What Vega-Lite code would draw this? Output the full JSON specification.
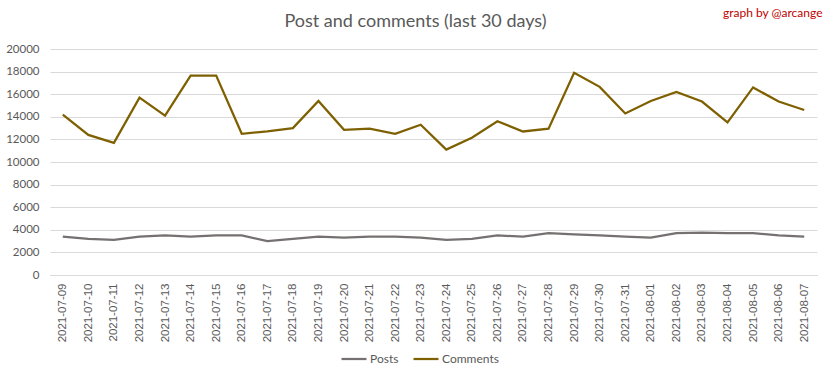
{
  "$schema": "https://vega.github.io/schema/vega-lite/v6.json",
  "autosize": {"type": "none"},
  "width": 767,
  "height": 226,
  "padding": {"left": 50, "top": 49, "right": 15, "bottom": 103},
  "background": "white",
  "title": {"text": "Post and comments (last 30 days)", "anchor": "middle", "dx": -18, "offset": -25, "font": "Lato", "fontSize": 18, "fontWeight": "normal", "color": "#595959"},
  "data": {"values": [
    {"date": "2021-07-09", "Posts": 3400, "Comments": 14200},
    {"date": "2021-07-10", "Posts": 3200, "Comments": 12400},
    {"date": "2021-07-11", "Posts": 3100, "Comments": 11700},
    {"date": "2021-07-12", "Posts": 3400, "Comments": 15700},
    {"date": "2021-07-13", "Posts": 3500, "Comments": 14100},
    {"date": "2021-07-14", "Posts": 3400, "Comments": 17650},
    {"date": "2021-07-15", "Posts": 3500, "Comments": 17650},
    {"date": "2021-07-16", "Posts": 3500, "Comments": 12500},
    {"date": "2021-07-17", "Posts": 3000, "Comments": 12700},
    {"date": "2021-07-18", "Posts": 3200, "Comments": 13000},
    {"date": "2021-07-19", "Posts": 3400, "Comments": 15400},
    {"date": "2021-07-20", "Posts": 3300, "Comments": 12850},
    {"date": "2021-07-21", "Posts": 3400, "Comments": 12950},
    {"date": "2021-07-22", "Posts": 3400, "Comments": 12500},
    {"date": "2021-07-23", "Posts": 3300, "Comments": 13300},
    {"date": "2021-07-24", "Posts": 3100, "Comments": 11100},
    {"date": "2021-07-25", "Posts": 3200, "Comments": 12150},
    {"date": "2021-07-26", "Posts": 3500, "Comments": 13600},
    {"date": "2021-07-27", "Posts": 3400, "Comments": 12700},
    {"date": "2021-07-28", "Posts": 3700, "Comments": 12950},
    {"date": "2021-07-29", "Posts": 3600, "Comments": 17900},
    {"date": "2021-07-30", "Posts": 3500, "Comments": 16650},
    {"date": "2021-07-31", "Posts": 3400, "Comments": 14300},
    {"date": "2021-08-01", "Posts": 3300, "Comments": 15400},
    {"date": "2021-08-02", "Posts": 3700, "Comments": 16200},
    {"date": "2021-08-03", "Posts": 3750, "Comments": 15350},
    {"date": "2021-08-04", "Posts": 3700, "Comments": 13500},
    {"date": "2021-08-05", "Posts": 3700, "Comments": 16600},
    {"date": "2021-08-06", "Posts": 3500, "Comments": 15350},
    {"date": "2021-08-07", "Posts": 3400, "Comments": 14600}
  ]},
  "transform": [{"fold": ["Posts", "Comments"], "as": ["series", "value"]}],
  "layer": [
    {
      "mark": {"type": "line", "strokeWidth": 2.25},
      "encoding": {
        "x": {"field": "date", "type": "ordinal", "scale": {"paddingInner": 0, "paddingOuter": 0.5},
          "axis": {"title": null, "labelAngle": 270, "labelAlign": "right", "labelBaseline": "middle", "labelPadding": 8, "ticks": false, "domainColor": "#d9d9d9", "labelColor": "#595959", "labelFont": "Liberation Sans", "labelFontSize": 11.5, "grid": false}},
        "y": {"field": "value", "type": "quantitative", "scale": {"domain": [0, 20000], "nice": false},
          "axis": {"title": null, "values": [0, 2000, 4000, 6000, 8000, 10000, 12000, 14000, 16000, 18000, 20000], "domain": false, "ticks": false, "labelPadding": 11, "labelColor": "#595959", "labelFont": "Lato", "labelFontSize": 11.5, "gridColor": "#d9d9d9", "format": "d"}},
        "color": {"field": "series", "type": "nominal", "sort": ["Posts", "Comments"],
          "scale": {"domain": ["Posts", "Comments"], "range": ["#767171", "#7f6000"]},
          "legend": {"title": null, "orient": "none", "direction": "horizontal", "legendX": 290, "legendY": 296, "symbolType": "stroke", "symbolSize": 625, "symbolStrokeWidth": 2.25, "labelFont": "Lato", "labelFontSize": 12, "labelColor": "#595959", "columnPadding": 10, "labelOffset": 2}}
      }
    },
    {
      "mark": {"type": "text", "opacity": 0},
      "encoding": {
        "x": {"field": "date", "type": "ordinal",
          "axis": {"orient": "top", "labels": false, "ticks": false, "domain": false, "grid": false, "title": "graph by @arcange", "titleAnchor": "end", "titleColor": "#c00000", "titleFont": "Lato", "titleFontSize": 12, "titleFontWeight": "normal", "titleY": -30, "titleX": 772}}
      }
    }
  ],
  "resolve": {"axis": {"x": "independent"}},
  "config": {"view": {"stroke": null}}
}
